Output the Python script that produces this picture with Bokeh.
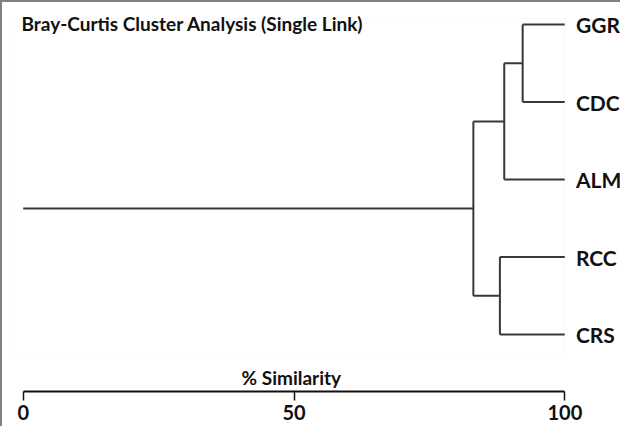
from bokeh.plotting import figure
from bokeh.models import Range1d, FixedTicker, Label, BoxAnnotation, ColumnDataSource
from bokeh.core.properties import value
from bokeh.embed import file_html
from bokeh.resources import INLINE

# ---- data ----
leaf_labels = ["GGR", "CDC", "ALM", "RCC", "CRS"]
# merges: cluster ids (0..4 leaves, 5.. merged clusters in order)
merge_left = [0, 5, 3, 6]
merge_right = [1, 2, 4, 7]
merge_similarity = [92.2, 88.8, 88.0, 83.1]
leaf_similarity = 100
root_start = 0
axis_ticks = [0, 50, 100]
title_text = "Bray-Curtis Cluster Analysis (Single Link)"
axis_title = "% Similarity"

FONT = "Lato"
LINE = "#383838"

# ---- dendrogram geometry from data ----
n = len(leaf_labels)
node_y = {i: float(n - 1 - i) for i in range(n)}
node_x = {i: float(leaf_similarity) for i in range(n)}
x0, y0, x1, y1 = [], [], [], []
for k, (a, b, s) in enumerate(zip(merge_left, merge_right, merge_similarity)):
    cid = n + k
    for c in (a, b):
        x0.append(node_x[c]); y0.append(node_y[c]); x1.append(s); y1.append(node_y[c])
    x0.append(s); y0.append(node_y[a]); x1.append(s); y1.append(node_y[b])
    node_x[cid] = s
    node_y[cid] = (node_y[a] + node_y[b]) / 2
root = n + len(merge_similarity) - 1
x0.append(root_start); y0.append(node_y[root]); x1.append(node_x[root]); y1.append(node_y[root])

seg = ColumnDataSource(dict(x0=x0, y0=y0, x1=x1, y1=y1))
lab = ColumnDataSource(dict(x=[leaf_similarity] * n, y=[node_y[i] for i in range(n)], t=leaf_labels))

p = figure(width=620, height=426, output_backend="svg", toolbar_location=None,
           x_range=Range1d(-3.82, 110.63), y_range=Range1d(-0.735, 4.284),
           min_border_left=0, min_border_right=0, min_border_top=0, min_border_bottom=37)
p.styles = {"border-top": "2px solid #808080", "border-left": "2px solid #808080"}
p.outline_line_color = None
p.xgrid.visible = False
p.ygrid.visible = False
p.yaxis.visible = False
p.background_fill_color = "white"

p.add_layout(BoxAnnotation(left=-1.85, right=leaf_similarity, bottom=-0.28, top=4.08,
                           fill_color=None, line_color="#eeeeee", line_width=1))

p.segment(x0="x0", y0="y0", x1="x1", y1="y1", source=seg, line_color=LINE, line_width=2)
p.text(x="x", y="y", text="t", source=lab, x_offset=11, text_align="left", text_baseline="middle",
       text_font=value(FONT), text_font_style="bold", text_font_size="21px", text_color="#111111")

p.add_layout(Label(x=-0.31, y=4.013, text=title_text, text_font=FONT, text_font_style="bold",
                   text_font_size="19px", text_baseline="middle", text_align="left", text_color="#111111"))
p.add_layout(Label(x=49.5, y=-0.548, text=axis_title, text_font=FONT, text_font_style="bold",
                   text_font_size="19px", text_baseline="middle", text_align="center", text_color="#111111"))

ax = p.xaxis[0]
ax.ticker = FixedTicker(ticks=axis_ticks)
ax.bounds = (0, 100)
ax.axis_line_width = 2
ax.axis_line_color = "#111111"
ax.major_tick_line_color = "#111111"
ax.major_tick_line_width = 1.5
ax.major_tick_out = 9
ax.major_tick_in = 0
ax.minor_tick_line_color = None
ax.major_label_standoff = 4
ax.major_label_text_font = FONT
ax.major_label_text_font_style = "bold"
ax.major_label_text_font_size = "20px"
ax.major_label_text_color = "#111111"

open("out.html", "w").write(file_html(p, INLINE))
